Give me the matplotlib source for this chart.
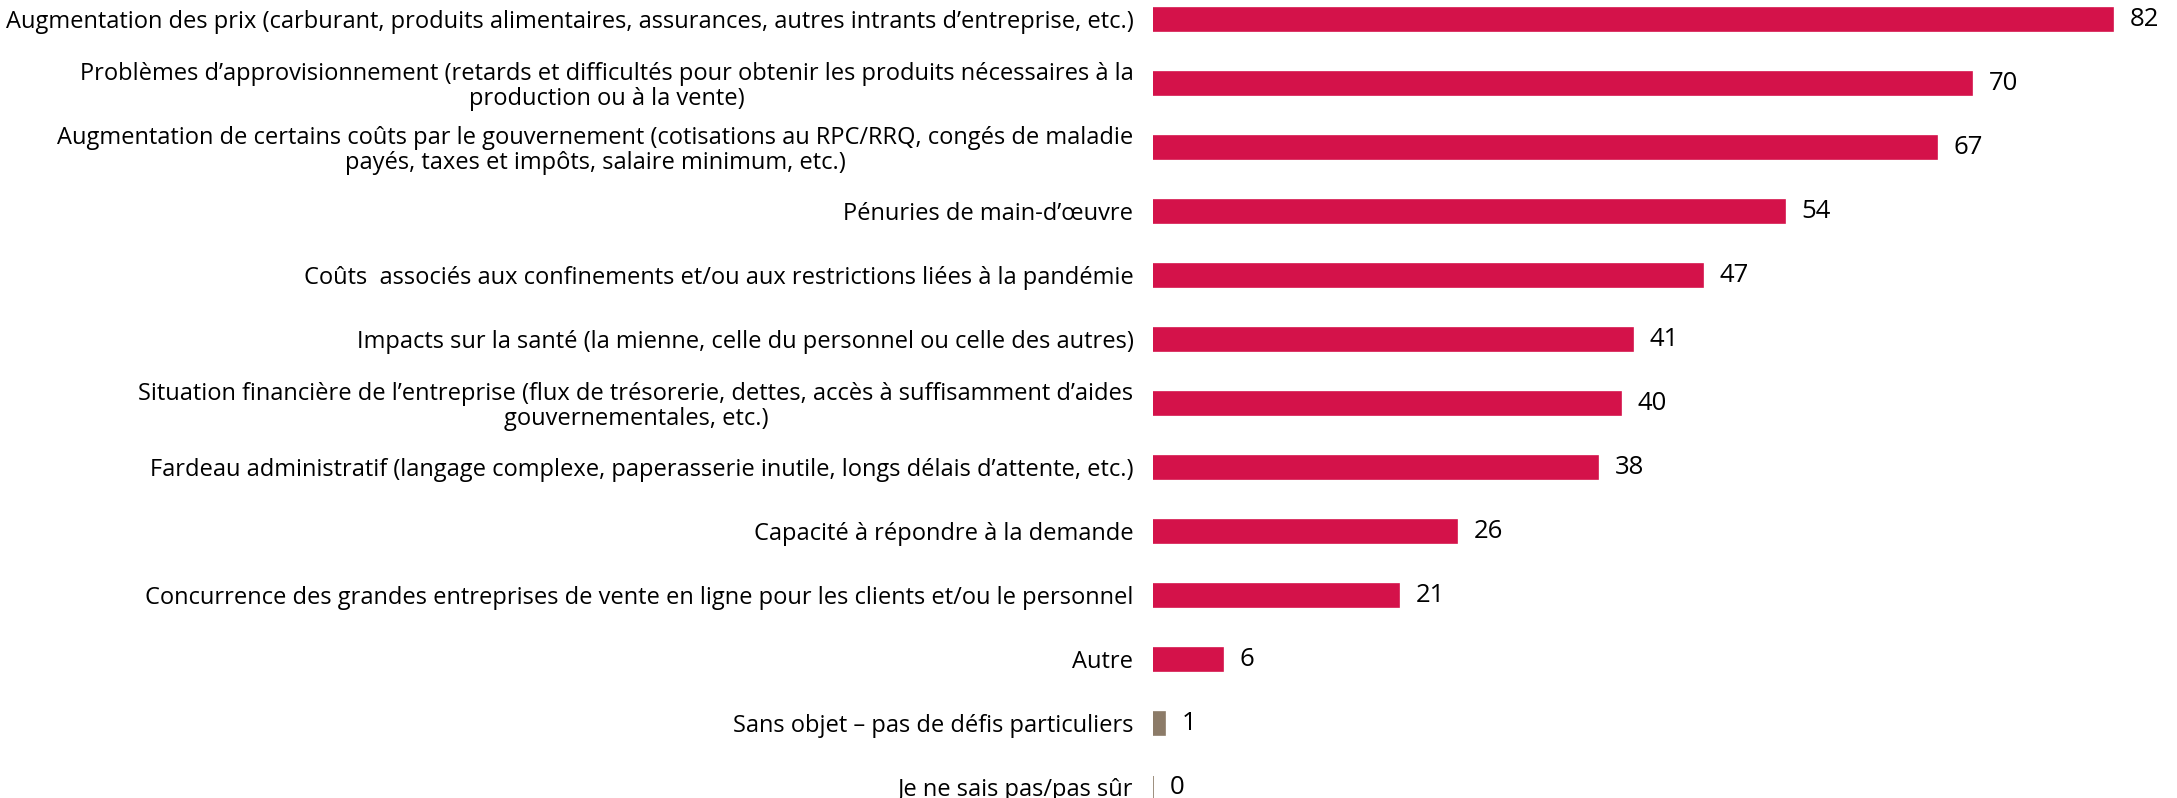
import matplotlib.pyplot as plt

categories = [
    "Augmentation des prix (carburant, produits alimentaires, assurances, autres intrants d\u2019entreprise, etc.)",
    "Probl\u00e8mes d\u2019approvisionnement (retards et difficult\u00e9s pour obtenir les produits n\u00e9cessaires \u00e0 la\nproduction ou \u00e0 la vente)",
    "Augmentation de certains co\u00fbts par le gouvernement (cotisations au RPC/RRQ, cong\u00e9s de maladie\npay\u00e9s, taxes et imp\u00f4ts, salaire minimum, etc.)",
    "P\u00e9nuries de main-d\u2019\u0153uvre",
    "Co\u00fbts  associ\u00e9s aux confinements et/ou aux restrictions li\u00e9es \u00e0 la pand\u00e9mie",
    "Impacts sur la sant\u00e9 (la mienne, celle du personnel ou celle des autres)",
    "Situation financi\u00e8re de l\u2019entreprise (flux de tr\u00e9sorerie, dettes, acc\u00e8s \u00e0 suffisamment d\u2019aides\ngouvernementales, etc.)",
    "Fardeau administratif (langage complexe, paperasserie inutile, longs d\u00e9lais d\u2019attente, etc.)",
    "Capacit\u00e9 \u00e0 r\u00e9pondre \u00e0 la demande",
    "Concurrence des grandes entreprises de vente en ligne pour les clients et/ou le personnel",
    "Autre",
    "Sans objet \u2013 pas de d\u00e9fis particuliers",
    "Je ne sais pas/pas s\u00fbr",
]
values = [82, 70, 67, 54, 47, 41, 40, 38, 26, 21, 6, 1, 0]

RED = "#D4124A"
BROWN = "#8C7B68"
colors = [RED] * 11 + [BROWN, BROWN]


def main():
    plt.rcParams['font.family'] = ['Open Sans', 'DejaVu Sans']
    fig = plt.figure(figsize=(21.77, 7.98), dpi=100)
    ax = fig.add_axes([0.5296, 0.0, 0.4704, 1.0])

    y = list(range(len(values)))
    ax.barh(y, values, height=0.36, color=colors, edgecolor=colors, linewidth=1.2)

    for yi, v in zip(y, values):
        ax.annotate(str(v), xy=(v, yi), xytext=(12, 0), textcoords="offset points",
                    va="center", ha="left", fontsize=18.5, color="black")

    ax.set_yticks(y)
    ax.set_yticklabels(categories, fontsize=17, multialignment="center", linespacing=1.05)
    ax.tick_params(axis="y", length=0, pad=14)
    ax.set_xticks([])
    ax.set_xlim(0, 87.5)
    ax.set_ylim(12.17, -0.30)
    for s in ax.spines.values():
        s.set_visible(False)

    fig.savefig("out.png", dpi=100)


if __name__ == "__main__":
    main()
